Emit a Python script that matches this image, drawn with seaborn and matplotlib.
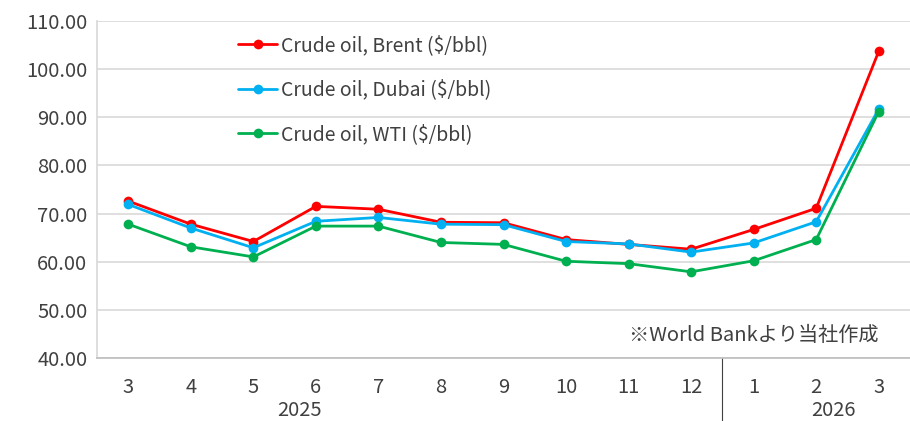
import matplotlib
matplotlib.use("Agg")
import matplotlib.pyplot as plt
import seaborn as sns
import pandas as pd

months = ["3", "4", "5", "6", "7", "8", "9", "10", "11", "12", "1", "2", "3"]
years = ["2025", "2026"]
brent = [72.6, 67.8, 64.2, 71.5, 70.9, 68.2, 68.1, 64.6, 63.6, 62.6, 66.7, 71.1, 103.7]
dubai = [71.9, 67.0, 62.9, 68.4, 69.2, 67.8, 67.7, 64.2, 63.7, 62.0, 63.9, 68.3, 91.7]
wti = [67.8, 63.1, 61.0, 67.4, 67.4, 64.0, 63.6, 60.1, 59.6, 57.9, 60.2, 64.6, 91.2]
series_names = ["Crude oil, Brent ($/bbl)", "Crude oil, Dubai ($/bbl)", "Crude oil, WTI ($/bbl)"]
yticks = [40, 50, 60, 70, 80, 90, 100, 110]
note = "※World Bankより当社作成"

sns.set_theme(style="white")
plt.rcParams["font.family"] = ["Noto Sans CJK JP", "DejaVu Sans"]

rows = []
for name, vals in zip(series_names, [brent, dubai, wti]):
    for i, v in enumerate(vals):
        rows.append({"idx": i, "value": v, "series": name})
df = pd.DataFrame(rows)

colors = ["#FF0000", "#00B0F0", "#00B050"]
fig = plt.figure(figsize=(9.1, 4.21), dpi=100)
ax = fig.add_axes([0.1066, 0.1496, 0.8934, 0.8005])

sns.lineplot(data=df, x="idx", y="value", hue="series", palette=colors,
             marker="o", markersize=7, markeredgewidth=0, linewidth=2.0,
             ax=ax, legend=True)

ax.set_xlim(-0.5, len(months) - 0.5)
ax.set_ylim(40, 110)
ax.set_yticks(yticks)
ax.set_yticklabels([f"{t:.2f}" for t in yticks], fontsize=14.5, color="#404040")
ax.set_xticks(range(len(months)))
ax.set_xticklabels(months, fontsize=14.5, color="#404040")
ax.tick_params(axis="x", length=0, pad=14)
ax.tick_params(axis="y", length=0, pad=7)
ax.set_xlabel("")
ax.set_ylabel("")
ax.grid(axis="y", color="#D9D9D9", linewidth=1.2)
for s in ["top", "right"]:
    ax.spines[s].set_visible(False)
ax.spines["left"].set_color("#D9D9D9")
ax.spines["bottom"].set_color("#BFBFBF")

# year labels and separator
ax.text(2.74, -0.155, years[0], transform=ax.get_xaxis_transform(), ha="center", va="center",
        fontsize=14.5, color="#404040")
ax.text(11.27, -0.155, years[1], transform=ax.get_xaxis_transform(), ha="center", va="center",
        fontsize=14.5, color="#404040")
ax.plot([9.5, 9.5], [0, -0.2], transform=ax.get_xaxis_transform(), color="#404040",
        linewidth=0.8, clip_on=False)

ax.text(12.0, 42.6, note, ha="right", va="bottom", fontsize=14.5, color="#404040")

leg = ax.legend(loc="upper left", bbox_to_anchor=(0.152, 1.01), frameon=False,
                fontsize=14, handlelength=2.0, handletextpad=0.2, labelspacing=1.2)
for t in leg.get_texts():
    t.set_color("#404040")

fig.savefig("out.png", dpi=100)
